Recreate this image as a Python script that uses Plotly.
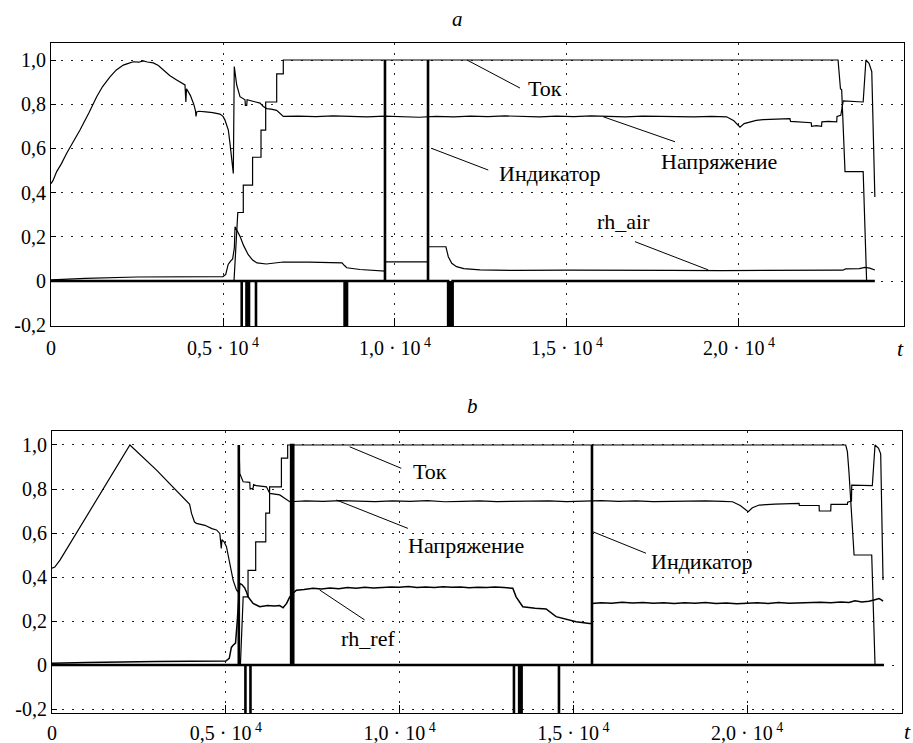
import plotly.graph_objects as go

# ---------------- data: panel a ----------------
a_voltage = [(0,0.440),(60,0.455),(165,0.495),(300,0.530),(456,0.578),(650,0.630),(843,0.683),(1100,0.760),
             (1328,0.834),(1500,0.880),(1715,0.924),(1900,0.955),(2102,0.977),(2250,0.985),(2393,0.992),(2550,0.990),
             (2684,0.996),(2800,0.991),(2974,0.987),(3120,0.975),(3265,0.955),(3450,0.930),(3653,0.910),(3800,0.898),
             (3895,0.887),(3920,0.810),(3940,0.870),(4050,0.840),(4150,0.800),(4200,0.770),(4215,0.745),(4235,0.765),
             (4300,0.768),(4500,0.765),(4700,0.762),(4913,0.755),(5000,0.745),(5058,0.728),(5155,0.683),(5203,0.623),
             (5300,0.487),(5328,0.970),(5398,0.887),(5494,0.834),(5640,0.820),(5650,0.795),(5690,0.795),(5700,0.820),
             (5800,0.815),(5950,0.810),(6076,0.805),(6172,0.790),(6270,0.780),(6400,0.778),(6560,0.772),(6680,0.755),
             (6753,0.745),(7200,0.746),(7700,0.744),(8200,0.747),(8700,0.745),(9200,0.743),(9700,0.746),(10200,0.742),
             (10700,0.741),(11200,0.745),(11700,0.743),(12200,0.746),(12700,0.744),(13200,0.747),(13700,0.745),
             (14200,0.743),(14700,0.746),(15200,0.744),(15700,0.747),(16200,0.745),(16700,0.743),(17200,0.746),
             (17700,0.744),(18200,0.745),(18700,0.743),(19200,0.745),(19640,0.743),(19850,0.725),(20030,0.696),
             (20150,0.712),(20320,0.720),(20500,0.727),(20700,0.730),(21000,0.733),(21250,0.736),(21480,0.735),
             (21500,0.722),(21800,0.720),(22100,0.716),(22110,0.700),(22250,0.703),(22400,0.700),(22410,0.720),
             (22600,0.722),(22840,0.720),(22850,0.745),(22960,0.750),(23030,0.815),(23300,0.812),(23610,0.810),
             (23690,1.000),(23780,0.985),(23860,0.947),(23950,0.380)]

a_current = [(0,0),(5320,0),(5430,0.31),(5590,0.31),(5590,0.434),(5860,0.434),(5860,0.56),(6105,0.56),
             (6105,0.683),(6241,0.683),(6241,0.81),(6561,0.81),(6561,0.937),(6753,0.937),(6753,1.0),
             (22880,1.0),(22950,0.87),(22985,0.865),(23082,0.495),(23610,0.495),(23710,0.0)]

a_rh_air = [(0,0.005),(1000,0.012),(2500,0.018),(5000,0.020),(5080,0.030),(5150,0.075),(5220,0.090),(5280,0.100),
            (5330,0.150),(5350,0.245),(5420,0.225),(5500,0.200),(5600,0.160),(5730,0.120),(5860,0.095),(5990,0.082),
            (6260,0.077),(6500,0.080),(6750,0.086),(7500,0.085),(8000,0.084),(8460,0.082),(8530,0.070),(8600,0.060),
            (8980,0.052),(9650,0.045),(9709,0.045),(9709,0.087),(10300,0.086),(10960,0.087),(10960,0.155),
            (11480,0.155),(11550,0.110),(11650,0.080),(11790,0.065),(12000,0.056),(12470,0.050),(13500,0.048),
            (15000,0.049),(16500,0.047),(18000,0.048),(19500,0.047),(21000,0.048),(22500,0.048),(23020,0.049),
            (23100,0.055),(23500,0.056),(23660,0.062),(23800,0.058),(23950,0.050)]

# indicator pulses (start, end, level)
a_ind_start = [5544, 5683, 5756, 5959, 8535, 9709, 10960, 11545]
a_ind_end   = [5544, 5683, 5756, 5959, 8605, 9709, 10960, 11675]
a_ind_level = [-1, -1, -1, -1, -1, 1, 1, -1]
a_ind_stop = 23950

# ---------------- data: panel b ----------------
b_voltage = [(0,0.440),(80,0.445),(230,0.477),(2241,1.000),(3008,0.886),(3870,0.742),(3900,0.738),(3960,0.730),
             (4014,0.689),(4100,0.650),(4157,0.644),(4400,0.635),(4600,0.620),(4732,0.614),(4828,0.598),
             (4850,0.560),(4870,0.530),(4890,0.570),(4950,0.560),(5019,0.538),(5115,0.462),(5210,0.386),
             (5307,0.341),(5360,0.330),(5385,0.980),(5402,0.871),(5498,0.833),(5690,0.830),(5700,0.800),
             (5785,0.803),(5800,0.820),(5880,0.815),(6170,0.810),(6265,0.780),(6552,0.773),(6743,0.750),
             (6839,0.742),(7300,0.746),(7800,0.744),(8300,0.747),(8800,0.745),(9300,0.743),(9800,0.746),
             (10300,0.744),(10800,0.747),(11300,0.742),(11800,0.744),(12300,0.746),(12800,0.743),(13300,0.745),
             (13800,0.744),(14300,0.746),(14800,0.743),(15300,0.745),(15800,0.747),(16300,0.744),(16800,0.746),
             (17300,0.743),(17800,0.745),(18300,0.744),(18800,0.746),(19300,0.744),(19578,0.742),(19800,0.725),
             (20029,0.697),(20150,0.715),(20345,0.727),(20800,0.731),(21200,0.733),(21494,0.735),(21500,0.725),
             (22069,0.725),(22075,0.700),(22404,0.700),(22410,0.730),(22883,0.730),(22890,0.740),(23000,0.745),
             (23008,0.818),(23300,0.815),(23600,0.815),(23678,1.000),(23780,0.985),(23841,0.960),(23908,0.386)]

b_current = [(0,0),(5420,0),(5500,0.31),(5640,0.31),(5640,0.43),(5860,0.43),(5860,0.56),(6150,0.56),
             (6150,0.69),(6260,0.69),(6260,0.81),(6600,0.81),(6600,0.94),(6780,0.94),(6780,1.0),
             (22835,1.0),(22883,0.97),(22931,0.871),(23075,0.5),(23583,0.5),(23678,0.0)]

b_rh_ref = [(0,0.008),(1000,0.012),(3000,0.016),(5000,0.018),(5100,0.030),(5160,0.080),(5210,0.090),(5280,0.100),
            (5330,0.200),(5402,0.371),(5470,0.365),(5546,0.350),(5600,0.330),(5642,0.310),(5785,0.280),(5977,0.265),
            (6200,0.270),(6400,0.268),(6552,0.270),(6648,0.260),(6750,0.280),(6839,0.310),(6960,0.330),(7031,0.340),
            (7250,0.343),(7510,0.349),(7750,0.346),(8000,0.350),(8250,0.347),(8500,0.352),(8750,0.349),(9000,0.353),
            (9250,0.350),(9500,0.352),(9750,0.355),(10000,0.353),(10250,0.357),(10500,0.352),(10750,0.355),
            (11000,0.352),(11250,0.356),(11500,0.353),(11750,0.355),(12000,0.351),(12250,0.354),(12500,0.352),
            (12750,0.355),(13000,0.352),(13256,0.349),(13352,0.310),(13544,0.265),(13900,0.258),(14215,0.255),
            (14502,0.220),(15077,0.197),(15460,0.189),(15535,0.189),(15535,0.280),(15800,0.283),(16100,0.281),
            (16400,0.285),(16700,0.282),(17000,0.284),(17300,0.281),(17600,0.283),(17900,0.280),(18200,0.283),
            (18500,0.281),(18800,0.284),(19100,0.280),(19400,0.282),(19700,0.279),(20000,0.281),(20300,0.283),
            (20600,0.280),(20900,0.284),(21200,0.281),(21500,0.283),(21800,0.282),(22100,0.285),(22400,0.283),
            (22700,0.286),(22931,0.284),(23100,0.292),(23300,0.287),(23500,0.290),(23650,0.296),(23793,0.302),
            (23850,0.297),(23908,0.290)]

b_ind_start = [5374, 5565, 5710, 6880, 13290, 13440, 14585, 15535]
b_ind_end   = [5374, 5565, 5710, 6940, 13290, 13510, 14585, 15535]
b_ind_level = [1, -1, -1, 1, -1, -1, -1, 1]
b_ind_stop = 23936

x_tickvals = [0, 5000, 10000, 15000, 20000]
x_ticktext = ["0", "0,5 · 10<sup> 4</sup>", "1,0 · 10<sup> 4</sup>", "1,5 · 10<sup> 4</sup>", "2,0 · 10<sup> 4</sup>"]
y_tickvals = [-0.2, 0, 0.2, 0.4, 0.6, 0.8, 1.0]
y_ticktext = ["-0,2", "0", "0,2", "0,4", "0,6", "0,8", "1,0"]

# ---------------- labels with leader lines (layout, data coords) ----------------
# (text, text_x, text_y, line_x0, line_y0, line_x1, line_y1)
a_labels = [("Ток", 13808, 0.873, 12093, 1.0, 13634, 0.873),
            ("Напряжение", 17683, 0.543, 16055, 0.743, 18140, 0.630),
            ("Индикатор", 12956, 0.487, 11066, 0.600, 12712, 0.502),
            ("rh_air", 15814, 0.268, 16977, 0.178, 19108, 0.050)]
b_labels = [("Ток", 10336, 0.879, 8563, 0.992, 10049, 0.894),
            ("Напряжение", 10172, 0.545, 8181, 0.750, 10239, 0.621),
            ("rh_ref", 8256, 0.121, 7701, 0.341, 8994, 0.205),
            ("Индикатор", 17164, 0.470, 15555, 0.606, 17089, 0.508)]

FONT = "Liberation Serif"
W, H = 913, 743
ML, MR, MT, MB = 51, 9, 43, 30
PW, PH = W - ML - MR, H - MT - MB


def pulses(starts, ends, levels, stop):
    t, v = [0], [0]
    for s, e, lv in zip(starts, ends, levels):
        t += [s, s, e, e]
        v += [0, lv, lv, 0]
    t.append(stop)
    v.append(0)
    return t, v


def unzip(pairs):
    return [p[0] for p in pairs], [p[1] for p in pairs]


fig = go.Figure()
black = "black"
for xa, ya, series in [("x", "y", [(a_voltage, 1.2), (a_current, 1.2), (a_rh_air, 1.2)]),
                       ("x2", "y2", [(b_voltage, 1.2), (b_current, 1.2), (b_rh_ref, 1.5)])]:
    for s, w in series:
        t, v = unzip(s)
        fig.add_trace(go.Scatter(x=t, y=v, mode="lines", xaxis=xa, yaxis=ya,
                                 line=dict(color=black, width=w), showlegend=False, hoverinfo="skip"))

ta, va = pulses(a_ind_start, a_ind_end, a_ind_level, a_ind_stop)
fig.add_trace(go.Scatter(x=ta, y=va, mode="lines", xaxis="x", yaxis="y", fill="tozeroy", fillcolor=black,
                         line=dict(color=black, width=2.6), showlegend=False, hoverinfo="skip"))
tb, vb = pulses(b_ind_start, b_ind_end, b_ind_level, b_ind_stop)
fig.add_trace(go.Scatter(x=tb, y=vb, mode="lines", xaxis="x2", yaxis="y2", fill="tozeroy", fillcolor=black,
                         line=dict(color=black, width=2.6), showlegend=False, hoverinfo="skip"))

shapes, annotations = [], []
for labels, xr, yr in [(a_labels, "x", "y"), (b_labels, "x2", "y2")]:
    for text, tx, ty, x0, y0, x1, y1 in labels:
        shapes.append(dict(type="line", xref=xr, yref=yr, x0=x0, y0=y0, x1=x1, y1=y1,
                           line=dict(color=black, width=1)))
        annotations.append(dict(text=text, x=tx, y=ty, xref=xr, yref=yr, showarrow=False,
                                xanchor="left", yanchor="middle", font=dict(family=FONT, size=22, color=black)))


def paper(px, py):
    return (px - ML) / PW, (H - MB - py) / PH


for text, px, py, size in [("<i>a</i>", 457, 19, 21), ("<i>b</i>", 472, 406, 21),
                           ("<i>t</i>", 900, 348, 22), ("<i>t</i>", 907, 731, 22)]:
    xp, yp = paper(px, py)
    annotations.append(dict(text=text, x=xp, y=yp, xref="paper", yref="paper", showarrow=False,
                            xanchor="center", yanchor="middle", font=dict(family=FONT, size=size, color=black)))

axis_common = dict(showline=True, mirror=True, linecolor=black, linewidth=1, automargin=False,
                   showgrid=True, gridcolor="#222", gridwidth=1, griddash="2px,8px",
                   zeroline=False, ticks="inside", tickcolor=black, ticklen=8,
                   tickfont=dict(family=FONT, size=20, color=black))

top_y0, top_y1 = paper(0, 326)[1], paper(0, 43)[1]
bot_y0, bot_y1 = paper(0, 713)[1], paper(0, 431)[1]

fig.update_layout(
    width=W, height=H, margin=dict(l=ML, r=MR, t=MT, b=MB),
    font=dict(family=FONT, color=black),
    paper_bgcolor="white", plot_bgcolor="white", showlegend=False,
    xaxis=dict(axis_common, domain=[0, 1], anchor="y", range=[0, 24797],
               tickvals=x_tickvals, ticktext=x_ticktext, ticklabelstandoff=4),
    yaxis=dict(axis_common, domain=[top_y0, top_y1], anchor="x", range=[-0.2036, 1.0769],
               tickvals=y_tickvals, ticktext=y_ticktext, ticklen=5),
    xaxis2=dict(axis_common, domain=[1 / PW, (PW - 2) / PW], anchor="y2", range=[0, 24454],
                tickvals=x_tickvals, ticktext=x_ticktext, ticklabelstandoff=2),
    yaxis2=dict(axis_common, domain=[bot_y0, bot_y1], anchor="x2", range=[-0.218, 1.0636],
                tickvals=y_tickvals, ticktext=y_ticktext, ticklen=5),
    shapes=shapes, annotations=annotations,
)

fig.write_html("out.html", config={"displayModeBar": False},
               post_script="document.body.style.margin='0';document.body.style.overflow='hidden';")
